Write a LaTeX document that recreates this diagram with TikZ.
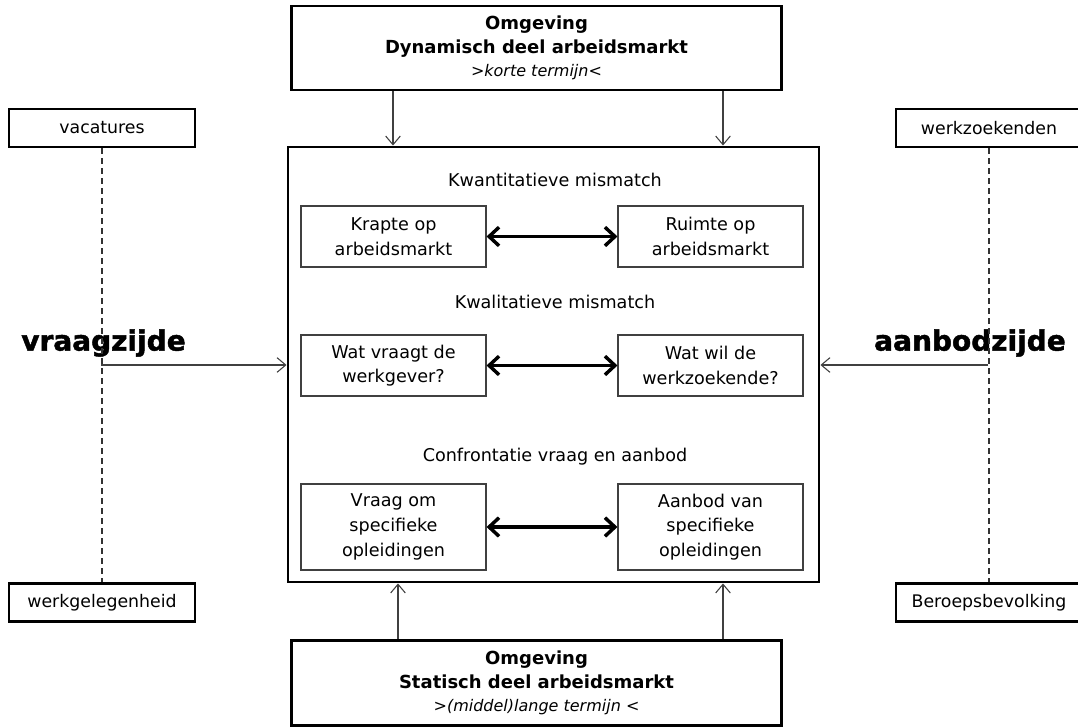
\documentclass[tikz,border=0pt]{standalone}
\usepackage{fontspec}
\setmainfont{DejaVu Sans}
\newfontfamily\zwaarfont[FakeBold=1.6]{DejaVu Sans Bold}
\usetikzlibrary{arrows.meta}

\begin{document}
\begin{tikzpicture}[x = 0.75pt, y = -0.75pt,
	omgeving/.style = {draw, line width = 2.2pt, align = center, minimum width = 368pt,
		minimum height = 63pt, inner sep = 0pt, font = \fontsize{13.5}{17.6}\selectfont\bfseries},
	zijbox/.style = {draw, line width = 2.2pt, minimum width = 139.5pt, minimum height = 28.5pt,
		inner sep = 0pt, font = \fontsize{13}{15}\selectfont},
	paar/.style = {draw = black!75, line width = 0.8pt, align = center, minimum width = 138.75pt,
		minimum height = 45.75pt, inner sep = 0pt, font = \fontsize{13.2}{18.5}\selectfont},
	kop/.style = {font = \fontsize{13.2}{15}\selectfont},
	zijde/.style = {font = \fontsize{21}{25}\zwaarfont},
	flow/.style = {draw = black!75, line width = 0.8pt, -{Straight Barb[length = 6.5pt, width = 11pt]}},
	wissel/.style = {line width = 2.6pt, {Straight Barb[length = 7.5pt, width = 14pt]}-{Straight Barb[length = 7.5pt, width = 14pt]}},
	lijn/.style = {draw = black!80, line width = 0.8pt, dash pattern = on 4.5pt off 3pt}]

		\useasboundingbox (0, 0) rectangle (1078, 727);

		% omgeving boven en onder
		\node (dynamisch) at (536.5,  48) [omgeving] {Omgeving\\ Dynamisch deel arbeidsmarkt\\ {\fontsize{12}{17.6}\selectfont\mdseries\itshape >korte termijn<}};
		\node (statisch)  at (536.5, 683) [omgeving, minimum height = 63.75pt] {Omgeving\\ Statisch deel arbeidsmarkt\\ {\fontsize{12}{17.6}\selectfont\mdseries\itshape >(middel)lange termijn <}};

		% arbeidsmarkt
		\node (markt) at (553.5, 364.5) [draw, line width = 2.2pt, minimum width = 398.25pt, minimum height = 326.25pt] {};

		% zijkanten
		\node (vacatures)  at ( 102, 128)   [zijbox] {vacatures};
		\node (werkgel)    at ( 102, 602.5) [zijbox] {werkgelegenheid};
		\node (werkzoek)   at ( 989, 128)   [zijbox] {werkzoekenden};
		\node (beroeps)    at ( 989, 602.5) [zijbox] {Beroepsbevolking};
		\node (vraagzijde) at ( 103.5, 343) [zijde] {vraagzijde};
		\node (aanbodzijde) at ( 970, 343)  [zijde] {aanbodzijde};

		% mismatch
		\node (kwant)     at (555, 180) [kop] {Kwantitatieve mismatch};
		\node (krapte)    at (393.5, 236.5) [paar] {Krapte op\\ arbeidsmarkt};
		\node (ruimte)    at (710.5, 236.5) [paar] {Ruimte op\\ arbeidsmarkt};
		\node (kwal)      at (555, 302) [kop] {Kwalitatieve mismatch};
		\node (vraagt)    at (393.5, 365.5) [paar] {Wat vraagt de\\ werkgever?};
		\node (wil)       at (710.5, 365.5) [paar] {Wat wil de\\ werkzoekende?};
		\node (confront)  at (555, 457) [kop] {Confrontatie vraag en aanbod};
		\node (vraagom)   at (393.5, 527) [paar, minimum height = 64.5pt] {Vraag om\\ specifieke\\ opleidingen};
		\node (aanbodvan) at (710.5, 527) [paar, minimum height = 64.5pt] {Aanbod van\\ specifieke\\ opleidingen};

		\coordinate (vraag)  at (101, 365);
		\coordinate (aanbod) at (988, 365);

		\foreach \van/\naar in {krapte/ruimte, vraagt/wil, vraagom/aanbodvan}
			\path (\van) edge [wissel] (\naar);

		\foreach \xpos in {393, 723}
			\draw [flow] (dynamisch.south -| \xpos, 0) -- (markt.north -| \xpos, 0);

		\foreach \xpos in {398, 723}
			\draw [flow] (statisch.north -| \xpos, 0) -- (markt.south -| \xpos, 0);

		\draw [lijn] (vacatures) -- (werkgel);
		\draw [lijn] (werkzoek) -- (beroeps);
		\draw [flow] (vraag) -- (vraag -| markt.west);
		\draw [flow] (aanbod) -- (aanbod -| markt.east);

\end{tikzpicture}
\end{document}
